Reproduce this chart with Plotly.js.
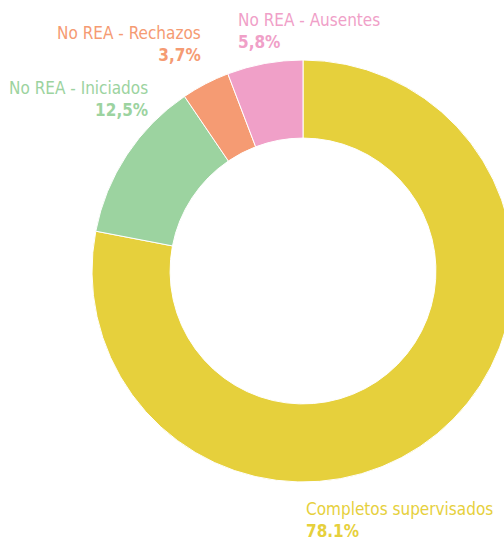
<!DOCTYPE html>
<html><head><meta charset="utf-8">
<script src="https://cdn.plot.ly/plotly-3.0.1.min.js"></script>
<style>html,body{margin:0;padding:0;overflow:hidden;width:504px;height:540px;background:#fff}</style>
</head><body>
<div id="chart" style="width:606px;height:540px"></div>
<script>
const categories = ["Completos supervisados", "No REA - Iniciados", "No REA - Rechazos", "No REA - Ausentes"];
const values = [78.1, 12.5, 3.7, 5.8];
const valueLabels = ["78.1%", "12,5%", "3,7%", "5,8%"];
const colors = ["#E6D03C", "#9CD3A0", "#F59B73", "#F0A0C8"];

const FONT = '"DejaVu Sans Condensed", "Liberation Sans Narrow", sans-serif';

// label placement (pixel positions in the 606x540 canvas)
const labelPos = [
  {x: 304, y: 520, anchor: "left"},
  {x: 150, y: 99, anchor: "right"},
  {x: 203, y: 44, anchor: "right"},
  {x: 236, y: 31, anchor: "left"}
];
const W = 606, H = 540;
const annotations = categories.map((c, i) => ({
  xref: "paper", yref: "paper",
  x: labelPos[i].x / W, y: 1 - labelPos[i].y / H,
  xanchor: labelPos[i].anchor, yanchor: "middle",
  align: labelPos[i].anchor,
  showarrow: false,
  text: c + "<br><b>" + valueLabels[i] + "</b>",
  font: {family: FONT, size: 17, color: colors[i]}
}));

Plotly.newPlot("chart", [{
  type: "pie",
  labels: categories,
  values: values,
  hole: 0.63,
  sort: false,
  direction: "clockwise",
  rotation: 0,
  textinfo: "none",
  marker: {colors: colors, line: {color: "#ffffff", width: 1}},
  domain: {x: [0, 1], y: [(H - 482) / H, (H - 60) / H]},
  showlegend: false
}], {
  width: W, height: H,
  margin: {l: 0, r: 0, t: 0, b: 0},
  paper_bgcolor: "#ffffff",
  annotations: annotations,
  showlegend: false
}, {displayModeBar: false, staticPlot: true});
</script>
</body></html>
